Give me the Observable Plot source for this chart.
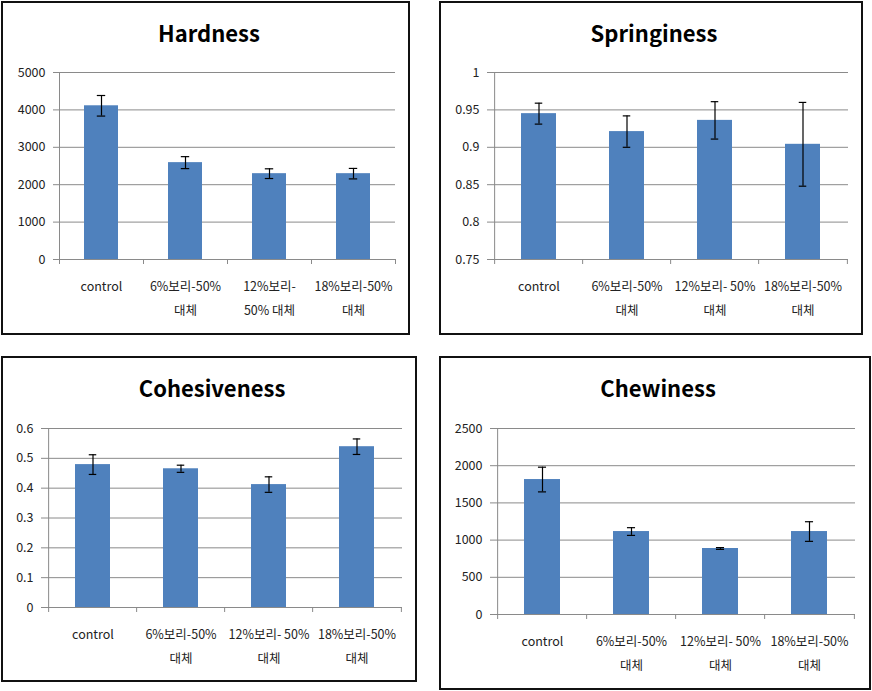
<!DOCTYPE html>
<html>
<head>
<meta charset="utf-8">
<script src="https://cdn.jsdelivr.net/npm/d3@7"></script>
<script src="https://cdn.jsdelivr.net/npm/@observablehq/plot@0.6"></script>
<style>
body{margin:0;background:#fff;}
#root{position:relative;width:872px;height:691px;overflow:hidden;background:#fff;}
.box{position:absolute;border:2px solid #111;box-sizing:border-box;}
.title{position:absolute;font-family:"Noto Sans CJK KR",sans-serif;font-weight:700;font-size:22px;line-height:30px;height:30px;white-space:nowrap;transform:translateX(-50%);color:#000;}
.chart{position:absolute;}
</style>
</head>
<body>
<div id="root"></div>
<script>
// ---- data ----
const categories = ["control", "6%보리-50% 대체", "12%보리- 50% 대체", "18%보리-50% 대체"];
const labelsHardness = ["control", "6%보리-50%\n대체", "12%보리-\n50% 대체", "18%보리-50%\n대체"];
const labelsOther = ["control", "6%보리-50%\n대체", "12%보리- 50%\n대체", "18%보리-50%\n대체"];

const hardness = [4110, 2590, 2295, 2295];
const hardnessErr = [275, 160, 130, 140];
const springiness = [0.945, 0.921, 0.936, 0.904];
const springinessErr = [0.014, 0.021, 0.025, 0.056];
const cohesiveness = [0.479, 0.465, 0.412, 0.539];
const cohesivenessErr = [0.033, 0.012, 0.026, 0.026];
const chewiness = [1814, 1115, 887, 1115];
const chewinessErr = [166, 52, 12, 132];

const hardnessTicks = [0, 1000, 2000, 3000, 4000, 5000];
const springinessTicks = [0.75, 0.8, 0.85, 0.9, 0.95, 1];
const cohesivenessTicks = [0, 0.1, 0.2, 0.3, 0.4, 0.5, 0.6];
const chewinessTicks = [0, 500, 1000, 1500, 2000, 2500];

const titles = ["Hardness", "Springiness", "Cohesiveness", "Chewiness"];

// ---- layout ----
const panels = [
  {title: titles[0], values: hardness, errors: hardnessErr, ticks: hardnessTicks, labels: labelsHardness,
   box: [1, 1, 410, 335], plot: [59, 72, 395, 259], titleX: 209, titleY: 33},
  {title: titles[1], values: springiness, errors: springinessErr, ticks: springinessTicks, labels: labelsOther,
   box: [439, 1, 863, 335], plot: [493, 72, 848, 259], titleX: 654, titleY: 33},
  {title: titles[2], values: cohesiveness, errors: cohesivenessErr, ticks: cohesivenessTicks, labels: labelsOther,
   box: [1, 356, 417, 682], plot: [47, 428, 402, 607], titleX: 212, titleY: 388},
  {title: titles[3], values: chewiness, errors: chewinessErr, ticks: chewinessTicks, labels: labelsOther,
   box: [439, 356, 871, 690], plot: [496, 428, 855, 614], titleX: 658, titleY: 388}
];

const root = document.getElementById("root");
const FONT = "'Noto Sans CJK KR', sans-serif";
const GRID = "#8a8a8a";
const BAR = "#4F81BD";

for (const p of panels) {
  const [bx0, by0, bx1, by1] = p.box;
  const [px0, py0, px1, py1] = p.plot;

  const box = document.createElement("div");
  box.className = "box";
  Object.assign(box.style, {left: bx0 + "px", top: by0 + "px", width: (bx1 - bx0) + "px", height: (by1 - by0) + "px"});
  root.appendChild(box);

  const t = document.createElement("div");
  t.className = "title";
  t.textContent = p.title;
  Object.assign(t.style, {left: p.titleX + "px", top: (p.titleY - 16) + "px"});
  root.appendChild(t);

  const sx0 = bx0 + 2, sy0 = by0 + 45, sx1 = bx1 - 2, sy1 = by1 - 2;
  const width = sx1 - sx0, height = sy1 - sy0;
  const step = (px1 - px0) / categories.length;
  const bandwidth = step * 0.4;
  const inset = (bandwidth - 8) / 2;
  const ymin = p.ticks[0], ymax = p.ticks[p.ticks.length - 1];

  const data = categories.map((c, i) => ({cat: c, v: p.values[i], e: p.errors[i], label: p.labels[i]}));

  const chart = Plot.plot({
    width, height,
    marginLeft: px0 - sx0, marginRight: sx1 - px1, marginTop: py0 - sy0, marginBottom: sy1 - py1,
    style: {fontFamily: FONT, fontSize: "12px", color: "#222", background: "transparent", overflow: "visible"},
    x: {domain: categories, paddingInner: 0.6, paddingOuter: 0.3, axis: null},
    y: {domain: [ymin, ymax], axis: null},
    marks: [
      Plot.gridY(p.ticks, {stroke: GRID, strokeOpacity: 1, insetLeft: -6}),
      Plot.ruleX([categories[0]], {x: d => d, y1: ymin, y2: ymax, dx: -step / 2, stroke: GRID}),
      Plot.ruleX(categories, {x: d => d, y1: ymin, y2: ymin, insetBottom: -5, dx: -step / 2, stroke: GRID}),
      Plot.ruleX([categories[categories.length - 1]], {x: d => d, y1: ymin, y2: ymin, insetBottom: -5, dx: step / 2, stroke: GRID}),
      Plot.barY(data, {x: "cat", y1: ymin, y2: "v", fill: BAR}),
      Plot.ruleX(data, {x: "cat", y1: d => d.v - d.e, y2: d => d.v + d.e, stroke: "#000", strokeWidth: 1.2}),
      Plot.tickY(data, {x: "cat", y: d => d.v + d.e, insetLeft: inset, insetRight: inset, stroke: "#000", strokeWidth: 1.2}),
      Plot.tickY(data, {x: "cat", y: d => d.v - d.e, insetLeft: inset, insetRight: inset, stroke: "#000", strokeWidth: 1.2}),
      Plot.axisY({ticks: p.ticks, tickSize: 0, tickPadding: 14, tickFormat: d => String(d), fontSize: 12.5, fill: "#222", label: null}),
      Plot.text(data, {x: "cat", text: "label", frameAnchor: "bottom", lineAnchor: "top", dy: 15, lineHeight: 1.9, fontSize: 12.5, fill: "#222"})
    ]
  });
  chart.classList.add("chart");
  Object.assign(chart.style, {left: sx0 + "px", top: sy0 + "px"});
  root.appendChild(chart);
}
</script>
</body>
</html>
